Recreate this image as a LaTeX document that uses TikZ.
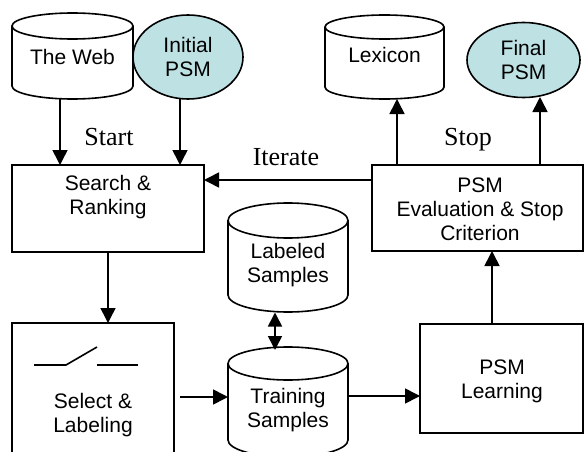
\documentclass[tikz,border=0pt]{standalone}
\usepackage{fontspec}
\setmainfont{Liberation Sans}
\newfontfamily\labelserif{Liberation Serif}
\usetikzlibrary{arrows.meta,shapes.geometric}
\definecolor{psmfill}{RGB}{190,226,228}
\tikzset{
  line/.style={line width=1.6pt},
  arr/.style={line, -{Triangle[length=15pt,width=15pt]}},
  darr/.style={line, {Triangle[length=14pt,width=14pt]}-{Triangle[length=14pt,width=14pt]}},
  boxtext/.style={align=center, font=\fontsize{21}{24}\selectfont},
  flowlabel/.style={font=\labelserif\fontsize{26}{28}\selectfont},
  procbox/.style={line, draw, fill=white},
  psmell/.style={line, draw, fill=psmfill, ellipse, inner sep=0pt}
}
% cylinder: #1 = left x, #2 = right x, #3 = top y, #4 = ry top, #5 = bottom centre y, #6 = ry bottom
\newcommand{\drumshape}[6]{%
  \pgfmathsetmacro{\cx}{(#1+#2)/2}\pgfmathsetmacro{\rx}{(#2-#1)/2}%
  \pgfmathsetmacro{\cy}{#3+#4}%
  \draw[line, fill=white] (#1,\cy) -- (#1,#5) arc[start angle=180,end angle=360,x radius=\rx,y radius=-#6]
        -- (#2,\cy) arc[start angle=0,end angle=180,x radius=\rx,y radius=-#4] -- cycle;
  \draw[line] (#1,\cy) arc[start angle=180,end angle=360,x radius=\rx,y radius=-#4];%
}
\begin{document}
\begin{tikzpicture}[x=1pt,y=-1pt]
\useasboundingbox (0,0) rectangle (584,452);
\clip (0,0) rectangle (584,452);

% stores
\drumshape{12}{133}{13}{13}{86}{13}
\node[boxtext] (web) at (72.5,57) {The Web};
\coordinate (webbot) at (60,99);

\drumshape{325}{444}{15}{12}{87}{12}
\node[boxtext] (lex) at (384.5,55) {Lexicon};
\coordinate (lexbot) at (397,99);

\drumshape{228}{348}{203}{17.5}{295}{17}
\node[boxtext] (lab) at (288,265) {Labeled\\Samples};
\coordinate (labbot) at (275,312.5);

\drumshape{228}{348}{347}{16.5}{440}{17}
\node[boxtext] (train) at (288,410) {Training\\Samples};
\coordinate (traintop) at (275,350);

% models
\node[psmell, minimum width=110pt, minimum height=84pt] (init) at (188,57) {};
\node[boxtext] at (init) {Initial\\PSM};
\coordinate (initbot) at (180,98.5);
\node[psmell, minimum width=113pt, minimum height=75pt] (final) at (523.5,60) {};
\node[boxtext] at (final) {Final\\PSM};
\coordinate (finalbot) at (540,97);

% processing steps
\draw[procbox] (12,165) rectangle (204,252);
\node[boxtext] (search) at (108,197) {Search \&\\Ranking};
\draw[procbox] (372,165) rectangle (583,251);
\node[boxtext] (eval) at (480,209) {PSM\\Evaluation \& Stop\\Criterion};
\draw[procbox] (12,323) rectangle (174,470);
\node[boxtext] (sel) at (93,415) {Select \&\\Labeling};
\draw[procbox] (420,324) rectangle (583,433);
\node[boxtext] (learn) at (502,381) {PSM\\Learning};

% switch symbol
\draw[line] (34,365) -- (66,365) -- (97,347);
\draw[line] (97,365) -- (138,365);

% connectors
\draw[arr] (webbot) -- (60,165);
\draw[arr] (initbot) -- (180,165);
\draw[arr] (108,252) -- (108,323);
\draw[arr] (180,397) -- (228,397);
\draw[arr] (348,396) -- (420,396);
\draw[arr] (492,324) -- (492,251);
\draw[arr] (372,180) -- (204,180);
\draw[arr] (397,165) -- (lexbot);
\draw[arr] (540,165) -- (finalbot);
\draw[darr] (labbot) -- (traintop);

% flow labels
\node[flowlabel] at (109,137) {Start};
\node[flowlabel] at (286,157) {Iterate};
\node[flowlabel] at (468,140) {Stop};
\end{tikzpicture}
\end{document}
